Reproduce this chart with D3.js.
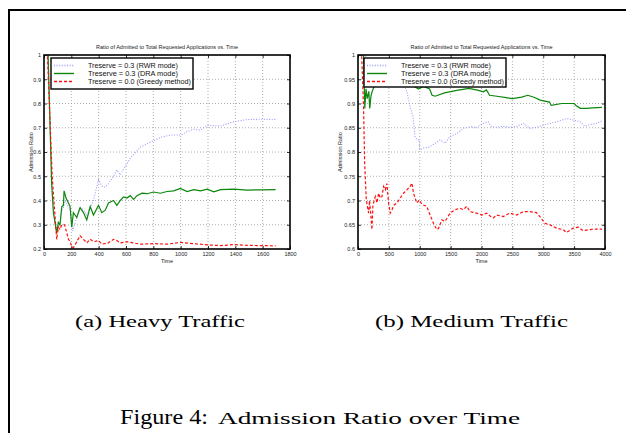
<!DOCTYPE html>
<html>
<head>
<meta charset="utf-8">
<script src="https://cdn.jsdelivr.net/npm/d3@7"></script>
<style>
  body { margin: 0; background: #fff; }
  svg { display: block; }
</style>
</head>
<body>
<div id="figure"></div>
<script>
// ---- data ----

// (a) heavy traffic
var heavyRwrTime    = [0, 30, 56, 69, 93, 105, 117, 130, 142, 155, 191, 210, 240, 264, 289, 313, 338, 362, 399, 423, 448, 472, 509, 533, 558, 594, 631, 705, 778, 851, 925, 1003, 1047, 1096, 1145, 1194, 1292, 1390, 1487, 1585, 1695];
var heavyRwrRatio   = [1, 1, 0.47, 0.35, 0.27, 0.30, 0.30, 0.36, 0.37, 0.40, 0.36, 0.275, 0.33, 0.375, 0.36, 0.34, 0.37, 0.40, 0.485, 0.46, 0.455, 0.47, 0.50, 0.526, 0.505, 0.54, 0.574, 0.62, 0.64, 0.66, 0.67, 0.67, 0.684, 0.693, 0.69, 0.71, 0.707, 0.725, 0.734, 0.735, 0.734];

var heavyDraTime    = [0, 30, 56, 69, 93, 105, 117, 130, 142, 147, 161, 179, 191, 203, 215, 240, 264, 289, 313, 338, 362, 399, 423, 448, 472, 509, 533, 558, 582, 607, 631, 656, 680, 717, 754, 802, 851, 900, 949, 998, 1047, 1096, 1145, 1194, 1243, 1292, 1390, 1487, 1585, 1695];
var heavyDraRatio   = [1, 1, 0.47, 0.35, 0.265, 0.31, 0.30, 0.375, 0.38, 0.44, 0.41, 0.39, 0.375, 0.29, 0.35, 0.33, 0.37, 0.35, 0.32, 0.375, 0.34, 0.38, 0.35, 0.36, 0.39, 0.40, 0.38, 0.40, 0.415, 0.41, 0.42, 0.405, 0.42, 0.43, 0.428, 0.435, 0.43, 0.437, 0.44, 0.45, 0.437, 0.445, 0.44, 0.447, 0.436, 0.445, 0.447, 0.443, 0.444, 0.445];

var heavyGreedyTime  = [0, 25, 60, 85, 93, 105, 117, 130, 150, 165, 179, 191, 203, 215, 240, 264, 289, 313, 338, 362, 399, 423, 470, 509, 533, 558, 607, 656, 705, 802, 900, 998, 1096, 1194, 1292, 1390, 1487, 1585, 1695];
var heavyGreedyRatio = [1, 1, 0.5, 0.30, 0.24, 0.29, 0.28, 0.30, 0.30, 0.27, 0.24, 0.23, 0.21, 0.205, 0.23, 0.255, 0.24, 0.225, 0.24, 0.23, 0.235, 0.22, 0.225, 0.24, 0.235, 0.225, 0.23, 0.225, 0.22, 0.222, 0.22, 0.227, 0.222, 0.217, 0.214, 0.218, 0.215, 0.214, 0.213];

// (b) medium traffic
var mediumRwrTime    = [0, 100, 200, 400, 600, 720, 790, 840, 890, 925, 960, 990, 1000, 1050, 1150, 1250, 1330, 1410, 1490, 1600, 1710, 1820, 1920, 2030, 2110, 2160, 2240, 2350, 2460, 2570, 2680, 2780, 2890, 3000, 3100, 3210, 3380, 3480, 3590, 3670, 3750, 3860, 3950];
var mediumRwrRatio   = [1, 1, 0.99, 0.975, 0.96, 0.945, 0.925, 0.895, 0.873, 0.83, 0.825, 0.825, 0.804, 0.808, 0.81, 0.818, 0.825, 0.818, 0.832, 0.838, 0.849, 0.852, 0.851, 0.859, 0.862, 0.852, 0.851, 0.853, 0.851, 0.853, 0.859, 0.849, 0.851, 0.855, 0.859, 0.862, 0.869, 0.866, 0.863, 0.853, 0.856, 0.859, 0.864];

var mediumDraTime    = [0, 90, 110, 130, 150, 175, 190, 210, 230, 260, 300, 400, 550, 700, 850, 980, 1060, 1160, 1200, 1250, 1400, 1600, 1800, 1950, 2030, 2080, 2130, 2250, 2400, 2500, 2650, 2750, 2850, 2950, 3100, 3130, 3300, 3500, 3530, 3600, 3700, 3800, 3950];
var mediumDraRatio   = [1, 1, 0.89, 0.93, 0.91, 0.925, 0.89, 0.915, 0.925, 0.935, 0.945, 0.95, 0.95, 0.945, 0.94, 0.93, 0.935, 0.93, 0.917, 0.915, 0.922, 0.927, 0.931, 0.927, 0.924, 0.928, 0.917, 0.915, 0.912, 0.91, 0.913, 0.917, 0.913, 0.907, 0.903, 0.896, 0.9, 0.9, 0.896, 0.89, 0.89, 0.891, 0.892];

var mediumGreedyTime  = [0, 60, 90, 108, 135, 172, 188, 210, 226, 242, 280, 307, 334, 361, 388, 415, 442, 468, 495, 522, 549, 576, 630, 684, 737, 791, 845, 872, 899, 953, 996, 1034, 1114, 1168, 1222, 1276, 1303, 1357, 1410, 1491, 1572, 1653, 1707, 1761, 1815, 1922, 2003, 2084, 2138, 2191, 2245, 2353, 2460, 2568, 2676, 2783, 2891, 2945, 3026, 3106, 3214, 3322, 3376, 3483, 3564, 3645, 3753, 3860, 3950];
var mediumGreedyRatio = [1, 1, 0.89, 0.777, 0.70, 0.674, 0.70, 0.667, 0.64, 0.69, 0.708, 0.695, 0.715, 0.705, 0.708, 0.729, 0.722, 0.735, 0.695, 0.674, 0.68, 0.69, 0.695, 0.705, 0.715, 0.722, 0.729, 0.736, 0.715, 0.695, 0.701, 0.692, 0.688, 0.67, 0.653, 0.64, 0.642, 0.66, 0.657, 0.674, 0.681, 0.684, 0.681, 0.688, 0.677, 0.674, 0.67, 0.674, 0.668, 0.664, 0.67, 0.667, 0.674, 0.67, 0.677, 0.677, 0.675, 0.667, 0.653, 0.65, 0.643, 0.64, 0.634, 0.643, 0.645, 0.638, 0.64, 0.641, 0.641];

// axes ticks
var heavyTimeTicks   = [0, 200, 400, 600, 800, 1000, 1200, 1400, 1600, 1800];
var heavyRatioTicks  = [0.2, 0.3, 0.4, 0.5, 0.6, 0.7, 0.8, 0.9, 1];
var mediumTimeTicks  = [0, 500, 1000, 1500, 2000, 2500, 3000, 3500, 4000];
var mediumRatioTicks = [0.6, 0.65, 0.7, 0.75, 0.8, 0.85, 0.9, 0.95, 1];

// texts
var seriesLabels = ["Treserve = 0.3 (RWR mode)", "Treserve = 0.3 (DRA mode)", "Treserve = 0.0 (Greedy method)"];
var plotTitle = "Ratio of Admitted to Total Requested Applications vs. Time";
var subCaptions = ["(a) Heavy Traffic", "(b) Medium Traffic"];

// ---- drawing ----

var width = 626, height = 433;

var svg = d3.select("#figure")
    .append("svg")
    .attr("width", width)
    .attr("height", height);

// page border (top and left rules)
svg.append("path")
    .attr("d", "M9,433V10H626")
    .attr("fill", "none")
    .attr("stroke", "#000")
    .attr("stroke-width", 2);

var seriesStyles = [
    {color: "#9a9aff", dash: "1,1.6", width: 1.1},
    {color: "#0c870c", dash: null,    width: 1.2},
    {color: "#ff1010", dash: "3,2",   width: 1.2}
];

function zipSeries(time, ratio) {
    return time.map(function(t, i) { return {t: t, r: ratio[i]}; });
}

/**
 * Draw one matlab-like panel with frame, grid, lines and legend.
 */
function drawPanel(panel) {
    var x = d3.scaleLinear().domain(panel.xDomain).range([panel.left, panel.right]);
    var y = d3.scaleLinear().domain(panel.yDomain).range([panel.bottom, panel.top]);
    var fmt = function(v) { return String(+v.toFixed(2)); };
    var g = svg.append("g").attr("font-family", "'Liberation Sans', Arial, sans-serif");

    var clipId = "clip" + panel.id;
    svg.append("clipPath").attr("id", clipId)
        .append("rect")
        .attr("x", panel.left).attr("y", panel.top)
        .attr("width", panel.right - panel.left)
        .attr("height", panel.bottom - panel.top);

    // dotted grid
    g.append("g").selectAll("line").data(panel.xTicks.slice(1, -1)).enter()
        .append("line")
        .attr("x1", d => x(d)).attr("x2", d => x(d))
        .attr("y1", panel.top).attr("y2", panel.bottom)
        .attr("stroke", "#999").attr("stroke-width", 0.8).attr("stroke-dasharray", "1,2");
    g.append("g").selectAll("line").data(panel.yTicks.slice(1, -1)).enter()
        .append("line")
        .attr("y1", d => y(d)).attr("y2", d => y(d))
        .attr("x1", panel.left).attr("x2", panel.right)
        .attr("stroke", "#999").attr("stroke-width", 0.8).attr("stroke-dasharray", "1,2");

    // inward ticks on all four sides
    var tickLen = 3;
    g.append("g")
        .attr("transform", "translate(0," + panel.bottom + ")")
        .call(d3.axisBottom(x).tickValues(panel.xTicks).tickSize(-tickLen).tickPadding(3).tickFormat(fmt))
        .call(sel => sel.select(".domain").remove());
    g.append("g")
        .attr("transform", "translate(0," + panel.top + ")")
        .call(d3.axisTop(x).tickValues(panel.xTicks).tickSize(-tickLen).tickFormat(""))
        .call(sel => sel.select(".domain").remove());
    g.append("g")
        .attr("transform", "translate(" + panel.left + ",0)")
        .call(d3.axisLeft(y).tickValues(panel.yTicks).tickSize(-tickLen).tickPadding(3).tickFormat(fmt))
        .call(sel => sel.select(".domain").remove());
    g.append("g")
        .attr("transform", "translate(" + panel.right + ",0)")
        .call(d3.axisRight(y).tickValues(panel.yTicks).tickSize(-tickLen).tickFormat(""))
        .call(sel => sel.select(".domain").remove());
    g.selectAll(".tick text").attr("font-size", 5.5).attr("fill", "#222").attr("font-family", "'Liberation Sans', Arial, sans-serif");
    g.selectAll(".tick line").attr("stroke", "#000").attr("stroke-width", 0.8);

    // series lines
    var line = d3.line().x(d => x(d.t)).y(d => y(d.r));
    panel.series.forEach(function(s, i) {
        var st = seriesStyles[i];
        g.append("path")
            .datum(s)
            .attr("clip-path", "url(#" + clipId + ")")
            .attr("fill", "none")
            .attr("stroke", st.color)
            .attr("stroke-width", st.width)
            .attr("stroke-dasharray", st.dash)
            .attr("d", line);
    });

    // frame
    g.append("rect")
        .attr("x", panel.left).attr("y", panel.top)
        .attr("width", panel.right - panel.left)
        .attr("height", panel.bottom - panel.top)
        .attr("fill", "none").attr("stroke", "#000").attr("stroke-width", 1.6);

    // title and axis labels
    var cx = (panel.left + panel.right) / 2;
    g.append("text").attr("x", cx).attr("y", panel.top - 6)
        .attr("text-anchor", "middle").attr("font-size", 5.5).attr("fill", "#222")
        .text(plotTitle);
    g.append("text").attr("x", cx).attr("y", panel.bottom + 14)
        .attr("text-anchor", "middle").attr("font-size", 5.5).attr("fill", "#222")
        .text("Time");
    g.append("text")
        .attr("transform", "translate(" + panel.yLabelX + "," + ((panel.top + panel.bottom) / 2) + ") rotate(-90)")
        .attr("text-anchor", "middle").attr("font-size", 5.5).attr("fill", "#222")
        .text("Admission Ratio");

    // legend
    var lg = g.append("g").attr("transform", "translate(" + panel.legendX + "," + panel.legendY + ")");
    lg.append("rect")
        .attr("width", 142).attr("height", panel.legendH)
        .attr("fill", "#fff").attr("stroke", "#000").attr("stroke-width", 1.4);
    seriesLabels.forEach(function(label, i) {
        var st = seriesStyles[i];
        var ly = 7.5 + i * 8;
        lg.append("line")
            .attr("x1", 3).attr("x2", 23).attr("y1", ly).attr("y2", ly)
            .attr("stroke", st.color).attr("stroke-width", st.width + 0.2)
            .attr("stroke-dasharray", st.dash);
        lg.append("text")
            .attr("x", 37).attr("y", ly + 2.6)
            .attr("font-size", 7.5).attr("fill", "#111")
            .attr("textLength", i === 2 ? 103 : 90).attr("lengthAdjust", "spacingAndGlyphs")
            .text(label);
    });
}

drawPanel({
    id: "a", left: 44, right: 290, top: 55, bottom: 249,
    xDomain: [0, 1800], yDomain: [0.2, 1],
    xTicks: heavyTimeTicks, yTicks: heavyRatioTicks,
    yLabelX: 33, legendX: 51, legendY: 58, legendH: 31,
    series: [zipSeries(heavyRwrTime, heavyRwrRatio),
             zipSeries(heavyDraTime, heavyDraRatio),
             zipSeries(heavyGreedyTime, heavyGreedyRatio)]
});

drawPanel({
    id: "b", left: 358, right: 605, top: 55, bottom: 249,
    xDomain: [0, 4000], yDomain: [0.6, 1],
    xTicks: mediumTimeTicks, yTicks: mediumRatioTicks,
    yLabelX: 342, legendX: 364, legendY: 58, legendH: 29,
    series: [zipSeries(mediumRwrTime, mediumRwrRatio),
             zipSeries(mediumDraTime, mediumDraRatio),
             zipSeries(mediumGreedyTime, mediumGreedyRatio)]
});

// sub captions and figure caption (LaTeX-like serif)
var serif = "'Liberation Serif', 'DejaVu Serif', serif";
svg.append("text").attr("x", 75).attr("y", 327)
    .attr("font-family", serif).attr("font-size", 17.5)
    .attr("textLength", 170).attr("lengthAdjust", "spacingAndGlyphs")
    .text(subCaptions[0]);
svg.append("text").attr("x", 375).attr("y", 327)
    .attr("font-family", serif).attr("font-size", 17.5)
    .attr("textLength", 193).attr("lengthAdjust", "spacingAndGlyphs")
    .text(subCaptions[1]);

var cap = svg.append("text").attr("y", 424).attr("font-family", serif);
cap.append("tspan").attr("x", 120).attr("font-size", 22)
    .attr("textLength", 88).attr("lengthAdjust", "spacingAndGlyphs")
    .text("Figure 4:");
cap.append("tspan").attr("x", 218).attr("font-size", 17)
    .attr("textLength", 302).attr("lengthAdjust", "spacingAndGlyphs")
    .text("Admission Ratio over Time");
</script>
</body>
</html>
